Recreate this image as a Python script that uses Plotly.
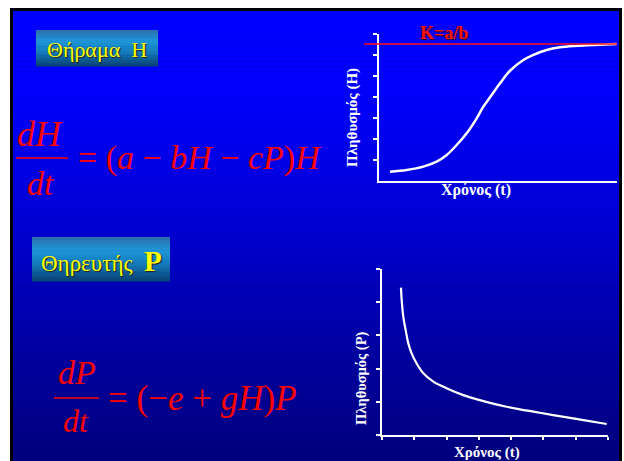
import plotly.graph_objects as go

W, H = 624, 461

# ---- data ----
prey_t = [0.462, 1.163, 1.863, 2.423, 2.843, 3.263, 3.684, 4.104, 4.384, 4.734,
          5.084, 5.504, 6.064, 6.490, 7.045, 7.605, 8.165, 9.005, 9.986]
prey_H = [0.444, 0.524, 0.683, 0.921, 1.238, 1.714, 2.27, 2.984, 3.54, 4.095,
          4.651, 5.250, 5.762, 6.010, 6.238, 6.365, 6.429, 6.476, 6.524]
K_value = 6.524
K_label = "K=a/b"

pred_t = [0.588, 0.609, 0.66, 0.733, 0.815, 0.918, 1.07, 1.28, 1.59, 2.0,
          2.52, 3.03, 3.86, 4.89, 5.92, 6.96]
pred_P = [4.44, 4.07, 3.56, 3.16, 2.76, 2.46, 2.16, 1.86, 1.61, 1.41,
          1.20, 1.05, 0.85, 0.67, 0.50, 0.33]

prey_label = "Θήραμα&nbsp;&nbsp;Η"
pred_label = "Θηρευτής&nbsp;&nbsp;"
pred_letter = "P"
y1_title = "Πληθυσμός (Η)"
y2_title = "Πληθυσμός (P)"
x_title = "Χρόνος (t)"


def px(x):
    return x / W


def py(y):
    return 1 - y / H


def lerp_color(stops, t):
    for i in range(len(stops) - 1):
        t0, c0 = stops[i]
        t1, c1 = stops[i + 1]
        if t0 <= t <= t1:
            f = (t - t0) / (t1 - t0) if t1 > t0 else 0
            c = [round(c0[k] + (c1[k] - c0[k]) * f) for k in range(3)]
            return "rgb(%d,%d,%d)" % tuple(c)
    c = stops[-1][1]
    return "rgb(%d,%d,%d)" % tuple(c)


shapes = []
# slide frame
shapes.append(dict(type="rect", xref="paper", yref="paper", x0=px(10), x1=px(622),
                   y0=py(H + 2), y1=py(8), fillcolor="black", line_width=0, layer="below"))
# background gradient
bg_stops = [(0.0, (0, 0, 255)), (0.2, (0, 0, 250)), (0.5, (0, 0, 205)), (0.75, (0, 0, 160)), (1.0, (0, 0, 125))]
top, bot = 11, H + 2
n = 90
for i in range(n):
    y0 = top + (bot - top) * i / n
    y1 = top + (bot - top) * (i + 1) / n
    shapes.append(dict(type="rect", xref="paper", yref="paper", x0=px(13), x1=px(619),
                       y0=py(y1 + 0.6), y1=py(y0), fillcolor=lerp_color(bg_stops, (i + 0.5) / n),
                       line_width=0, layer="below"))

# label boxes with gradient
box_stops = [(0.0, (45, 110, 170)), (0.3, (30, 150, 215)), (0.6, (20, 125, 190)), (1.0, (8, 65, 115))]


def add_box(x0, x1, ya, yb, m=20):
    for i in range(m):
        a = ya + (yb - ya) * i / m
        b = ya + (yb - ya) * (i + 1) / m
        shapes.append(dict(type="rect", xref="paper", yref="paper", x0=px(x0), x1=px(x1),
                           y0=py(b + 0.5), y1=py(a), fillcolor=lerp_color(box_stops, (i + 0.5) / m),
                           line_width=0, layer="below"))


add_box(36, 158, 30, 66)
add_box(32, 170, 237, 281)

# fraction bars
shapes.append(dict(type="line", xref="paper", yref="paper", x0=px(16), x1=px(68), y0=py(158), y1=py(158),
                   line=dict(color="red", width=1.5)))
shapes.append(dict(type="line", xref="paper", yref="paper", x0=px(54), x1=px(99), y0=py(398), y1=py(398),
                   line=dict(color="red", width=1.5)))

# K line
shapes.append(dict(type="line", xref="x domain", yref="y", x0=-0.063, x1=1.0, y0=K_value, y1=K_value,
                   line=dict(color="#ff1010", width=1.5)))

fig = go.Figure()
fig.add_trace(go.Scatter(x=prey_t, y=prey_H, mode="lines",
                         line=dict(color="white", width=2.5, shape="spline", smoothing=1.0),
                         xaxis="x", yaxis="y", showlegend=False, hoverinfo="skip"))
fig.add_trace(go.Scatter(x=pred_t, y=pred_P, mode="lines",
                         line=dict(color="white", width=2.2, shape="spline", smoothing=1.0),
                         xaxis="x2", yaxis="y2", showlegend=False, hoverinfo="skip"))

axis_common = dict(showgrid=False, zeroline=False, showline=True, linecolor="white", linewidth=2,
                   ticks="outside", tickcolor="white", tickwidth=1.5, showticklabels=False, fixedrange=True)

serif = "Liberation Serif, Times New Roman, Tinos, DejaVu Serif, serif"
ann = []


def A(x, y, text, size, color, xanchor="left", yanchor="middle", bold=False, angle=0, shadow=None):
    f = dict(family=serif, size=size, color=color)
    if shadow:
        f["shadow"] = shadow
    ann.append(dict(xref="paper", yref="paper", x=px(x), y=py(y), text=("<b>%s</b>" % text) if bold else text,
                    showarrow=False, xanchor=xanchor, yanchor=yanchor, font=f, textangle=angle))


ysh = "1px 1px 1px #202020"
A(97, 49, prey_label, 22, "#ffff00", xanchor="center", shadow=ysh)
A(101, 261, pred_label + "<span style='font-size:29px'><b>%s</b></span>" % pred_letter, 23, "#ffff00",
  xanchor="center", shadow=ysh)

A(444, 33, K_label, 18, "#ff1010", xanchor="center", bold=True, shadow="1px 1px 1px #400000")

# equations
red = "#ff0000"
A(40, 134, "<i>dH</i>", 36, red, xanchor="center")
A(41, 183, "<i>dt</i>", 34, red, xanchor="center")
A(76, 158, "= (<i>a</i> − <i>bH</i> − <i>cP</i>)<i>H</i>", 34, red)

A(77, 372, "<i>dP</i>", 34, red, xanchor="center")
A(76, 421, "<i>dt</i>", 32, red, xanchor="center")
A(106, 398, "= (−<i>e</i> + <i>gH</i>)<i>P</i>", 35, red)

# axis titles
A(352, 118, y1_title, 15, "white", xanchor="center", bold=True, angle=-90)
A(476, 190, x_title, 16, "white", xanchor="center", bold=True)
A(361, 378, y2_title, 14.5, "white", xanchor="center", bold=True, angle=-90)
A(487, 452, x_title, 15, "white", xanchor="center", bold=True)

fig.update_layout(
    width=W, height=H, margin=dict(l=0, r=0, t=0, b=0),
    paper_bgcolor="white", plot_bgcolor="rgba(0,0,0,0)",
    shapes=shapes, annotations=ann, showlegend=False,
    xaxis=dict(domain=[px(379), px(617)], range=[0, 10], anchor="y", ticks="", showgrid=False,
               zeroline=False, showline=True, linecolor="white", linewidth=2, showticklabels=False,
               fixedrange=True),
    yaxis=dict(domain=[py(181), py(34)], range=[0, 7], anchor="x", tickvals=[1, 2, 3, 4, 5, 6, 7],
               ticklen=4, **axis_common),
    xaxis2=dict(domain=[px(382), px(608)], range=[0, 7], anchor="y2", tickvals=[0, 1, 2, 3, 4, 5, 6, 7],
                ticklen=3, **axis_common),
    yaxis2=dict(domain=[py(435), py(269)], range=[0, 5], anchor="x2", tickvals=[0, 1, 2, 3, 4, 5],
                ticklen=4, **axis_common),
)

fig.write_html("out.html")
